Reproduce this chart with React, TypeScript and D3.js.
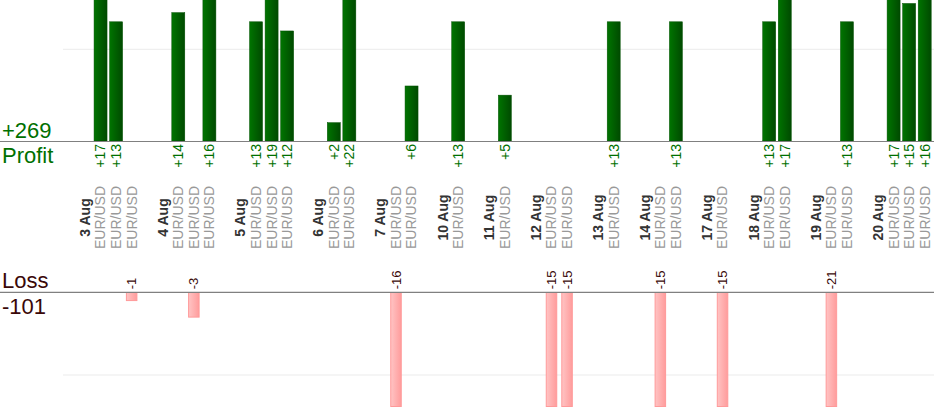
import * as React from 'react';
import * as d3 from 'd3';

// trading days and the result of each EUR/USD trade on that day (pips)
const days = ['3 Aug', '4 Aug', '5 Aug', '6 Aug', '7 Aug', '10 Aug', '11 Aug', '12 Aug', '13 Aug', '14 Aug', '17 Aug', '18 Aug', '19 Aug', '20 Aug'];
const dayTrades: number[][] = [
  [17, 13, -1],
  [14, -3, 16],
  [13, 19, 12],
  [2, 22],
  [-16, 6],
  [13],
  [5],
  [-15, -15],
  [13],
  [-15, 13],
  [-15],
  [13, 17],
  [-21, 13],
  [17, 15, 16],
];
const pair = 'EUR/USD';
const gridValues = [10];

type Slot = { kind: 'day' | 'trade' | 'gap'; label?: string; value?: number };

const W = 934, H = 420;

export default function App() {
  const slots: Slot[] = [];
  days.forEach((d, i) => {
    slots.push({ kind: 'day', label: d });
    dayTrades[i].forEach(v => slots.push({ kind: 'trade', label: pair, value: v }));
    if (i < days.length - 1) slots.push({ kind: 'gap' });
  });

  const step = 15.55;
  const x = d3.scaleBand<number>()
    .domain(d3.range(slots.length))
    .range([85 - step / 2, 85 - step / 2 + step * slots.length]);
  const cx = (i: number) => (x(i) as number) + x.bandwidth() / 2;

  // profit panel (bars run off the top edge), loss panel clipped at its bottom
  const yP = d3.scaleLinear().domain([0, 10]).range([141, 49.3]);
  const yL = d3.scaleLinear().domain([0, 10]).range([292.3, 375]);
  const lossBottom = 406.5;

  const trades = slots.map((s, i) => ({ ...s, i })).filter(s => s.kind === 'trade');
  const profits = trades.filter(t => (t.value as number) > 0);
  const losses = trades.filter(t => (t.value as number) < 0);
  const totalProfit = d3.sum(profits, t => t.value as number);
  const totalLoss = d3.sum(losses, t => t.value as number);

  const font = '"Liberation Sans", Arial, sans-serif';
  const pw = 13, lw = 10.5;

  return (
    <svg width={W} height={H} style={{ position: 'absolute', left: 0, top: 0, fontFamily: font }}>
      <defs>
        <linearGradient id="gp" x1="0" x2="1" y1="0" y2="0">
          <stop offset="0" stopColor="#007400" />
          <stop offset="1" stopColor="#004a00" />
        </linearGradient>
        <linearGradient id="gl" x1="0" x2="1" y1="0" y2="0">
          <stop offset="0" stopColor="#ffc4c4" />
          <stop offset="1" stopColor="#ff9c9c" />
        </linearGradient>
        <clipPath id="clipL">
          <rect x={0} y={yL(0)} width={W} height={lossBottom - yL(0) + 0.5} />
        </clipPath>
      </defs>

      {gridValues.map(g => (
        <g key={g}>
          <line x1={63} x2={W} y1={yP(g)} y2={yP(g)} stroke="#ebebeb" />
          <line x1={63} x2={W} y1={yL(g)} y2={yL(g)} stroke="#ebebeb" />
        </g>
      ))}

      {profits.map(t => (
        <rect key={'p' + t.i} x={cx(t.i) - pw / 2} y={yP(t.value as number)} width={pw}
          height={yP(0) - yP(t.value as number)} fill="url(#gp)" stroke="#005000" strokeWidth={0.5} />
      ))}

      <g clipPath="url(#clipL)">
        {losses.map(t => (
          <rect key={'l' + t.i} x={cx(t.i) - lw / 2} y={yL(0)} width={lw}
            height={Math.min(yL(-(t.value as number)), lossBottom) - yL(0)}
            fill="url(#gl)" stroke="#ff9a9a" strokeWidth={1} />
        ))}
      </g>

      <line x1={0} x2={W} y1={yP(0) + 0.5} y2={yP(0) + 0.5} stroke="#808080" strokeWidth={1.2} />
      <line x1={0} x2={W} y1={yL(0)} y2={yL(0)} stroke="#808080" strokeWidth={1.2} />

      {profits.map(t => (
        <text key={'pt' + t.i} transform={`translate(${cx(t.i)},${yP(0) + 3}) rotate(-90)`}
          textAnchor="end" dy="0.35em" fontSize={14} fill="#007000">{'+' + t.value}</text>
      ))}
      {losses.map(t => (
        <text key={'lt' + t.i} transform={`translate(${cx(t.i)},${yL(0) - 3}) rotate(-90)`}
          textAnchor="start" dy="0.35em" fontSize={13} fill="#3a0808">{String(t.value)}</text>
      ))}

      {slots.map((s, i) => s.kind === 'gap' ? null : (
        <text key={'s' + i} transform={`translate(${cx(i)},217.5) rotate(-90)`}
          textAnchor="middle" dy="0.35em" fontSize={14}
          fontWeight={s.kind === 'day' ? 'bold' : 'normal'}
          fill={s.kind === 'day' ? '#333333' : '#999999'}>{s.label}</text>
      ))}

      <text x={2} y={138} fontSize={22} fill="#007000">{'+' + totalProfit}</text>
      <text x={2} y={163} fontSize={22} fill="#007000">Profit</text>
      <text x={2} y={288} fontSize={22} fill="#3a0808">Loss</text>
      <text x={2} y={314} fontSize={22} fill="#3a0808">{String(totalLoss)}</text>
    </svg>
  );
}
